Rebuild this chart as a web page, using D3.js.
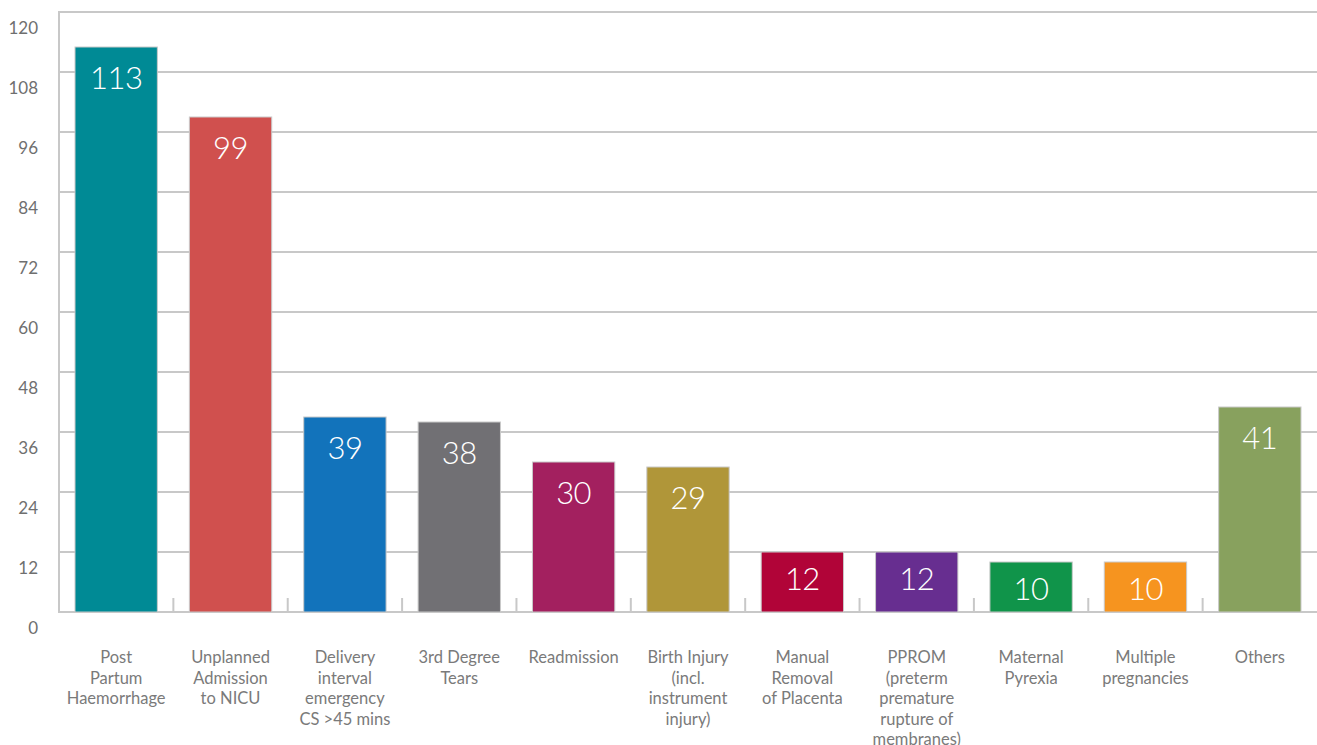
<!DOCTYPE html>
<html>
<head>
<meta charset="utf-8">
<script src="https://cdn.jsdelivr.net/npm/d3@7"></script>
<style>
  html, body { margin: 0; padding: 0; background: #ffffff; }
  svg { display: block; }
</style>
</head>
<body>
<svg id="chart" width="1317" height="745"></svg>
<script>
// Incident categories (each label split into display lines)
const categories = [
  ["Post", "Partum", "Haemorrhage"],
  ["Unplanned", "Admission", "to NICU"],
  ["Delivery", "interval", "emergency", "CS >45 mins"],
  ["3rd Degree", "Tears"],
  ["Readmission"],
  ["Birth Injury", "(incl.", "instrument", "injury)"],
  ["Manual", "Removal", "of Placenta"],
  ["PPROM", "(preterm", "premature", "rupture of", "membranes)"],
  ["Maternal", "Pyrexia"],
  ["Multiple", "pregnancies"],
  ["Others"]
];
const values = [113, 99, 39, 38, 30, 29, 12, 12, 10, 10, 41];
const barColors = ["#008a95", "#d0504e", "#1273bb", "#717074", "#a3205f",
                   "#b09639", "#b10438", "#672e90", "#10944a", "#f6941f", "#88a15e"];
const yTicks = [0, 12, 24, 36, 48, 60, 72, 84, 96, 108, 120];

const svg = d3.select("#chart");
const plotLeft = 59, plotRight = 1317, plotTop = 12, plotBottom = 612;
const keys = categories.map(c => c.join(" "));

const x = d3.scaleBand().domain(keys).range([plotLeft, plotRight])
  .paddingInner(0.28).paddingOuter(0.14);
const y = d3.scaleLinear().domain([0, 120]).range([plotBottom, plotTop]);

const gridColor = "#c8c8c8";

// horizontal gridlines
svg.append("g").selectAll("line").data(yTicks).join("line")
  .attr("x1", plotLeft).attr("x2", plotRight)
  .attr("y1", d => y(d)).attr("y2", d => y(d))
  .attr("stroke", gridColor).attr("stroke-width", 2);

// vertical axis line
svg.append("line")
  .attr("x1", plotLeft).attr("x2", plotLeft)
  .attr("y1", y(120) - 1).attr("y2", y(0) + 1)
  .attr("stroke", gridColor).attr("stroke-width", 2);

// y tick labels, sitting just below their gridline
svg.append("g").selectAll("text").data(yTicks).join("text")
  .attr("x", 38).attr("y", d => y(d) + 22)
  .attr("text-anchor", "end")
  .attr("font-family", "Lato, 'Open Sans', sans-serif")
  .attr("font-size", 17)
  .attr("fill", "#6f6f6f")
  .text(d => d);

// short category separator ticks on the baseline
const step = x.step();
const sepX = keys.slice(1).map(k => x(k) - step * x.paddingInner() / 2);
svg.append("g").selectAll("line").data(sepX).join("line")
  .attr("x1", d => d).attr("x2", d => d)
  .attr("y1", y(0) - 14).attr("y2", y(0))
  .attr("stroke", gridColor).attr("stroke-width", 2);

// bars
svg.append("g").selectAll("rect").data(values).join("rect")
  .attr("x", (d, i) => x(keys[i]))
  .attr("y", d => y(d))
  .attr("width", x.bandwidth())
  .attr("height", d => y(0) - y(d))
  .attr("fill", (d, i) => barColors[i])
  .attr("stroke", "#c9c9c9").attr("stroke-width", 1);

// value labels inside bars
svg.append("g").selectAll("text").data(values).join("text")
  .attr("x", (d, i) => x(keys[i]) + x.bandwidth() / 2)
  .attr("y", d => y(d) + ((y(0) - y(d)) < 100 ? 38 : 42))
  .attr("text-anchor", "middle")
  .attr("font-family", "Lato, 'Open Sans', sans-serif")
  .attr("font-weight", 300)
  .attr("font-size", 31)
  .attr("letter-spacing", -0.5)
  .attr("fill", "#ffffff")
  .text(d => d);

// category labels
const lab = svg.append("g").selectAll("text").data(categories).join("text")
  .attr("text-anchor", "middle")
  .attr("font-family", "Lato, 'Open Sans', sans-serif")
  .attr("font-size", 16.5)
  .attr("fill", "#7a7a7a");
lab.each(function(lines, i) {
  const cx = x(keys[i]) + x.bandwidth() / 2;
  d3.select(this).selectAll("tspan").data(lines).join("tspan")
    .attr("x", cx)
    .attr("y", (l, j) => 663 + j * 20.5)
    .text(l => l);
});
</script>
</body>
</html>
